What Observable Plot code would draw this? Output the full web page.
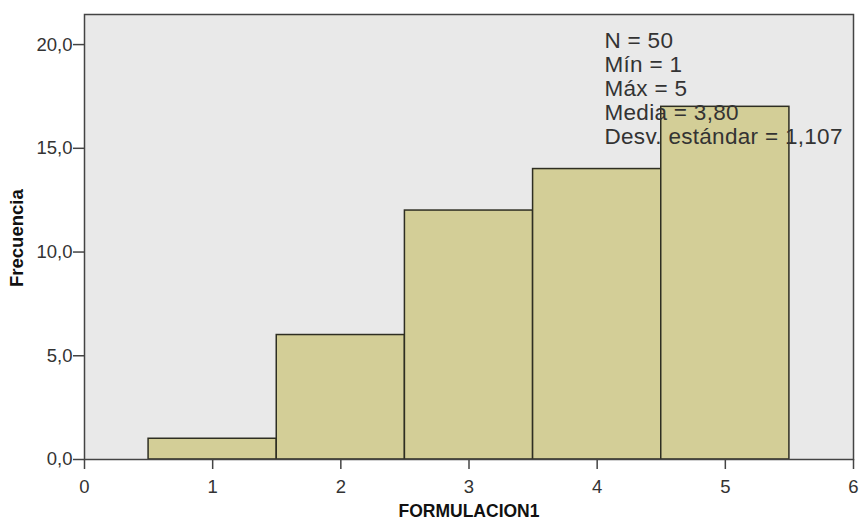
<!DOCTYPE html>
<html>
<head>
<meta charset="utf-8">
<script src="https://cdn.jsdelivr.net/npm/d3@7"></script>
<script src="https://cdn.jsdelivr.net/npm/@observablehq/plot@0.6"></script>
<style>
  html, body { margin: 0; padding: 0; background: #ffffff; }
  #chart svg { display: block; }
</style>
</head>
<body>
<div id="chart"></div>
<script>
const categories = [1, 2, 3, 4, 5];
const counts = [1, 6, 12, 14, 17];
const xTicks = [0, 1, 2, 3, 4, 5, 6];
const yTicks = [0, 5, 10, 15, 20];
const statsLines = ["N = 50", "Mín = 1", "Máx = 5", "Media = 3,80", "Desv. estándar = 1,107"];
const xTitle = "FORMULACION1";
const yTitle = "Frecuencia";

const bins = categories.map((c, i) => ({x1: c - 0.5, x2: c + 0.5, count: counts[i]}));
const fmt = d => d.toFixed(1).replace(".", ",");

const chart = Plot.plot({
  width: 861,
  height: 523,
  marginLeft: 84,
  marginRight: 8,
  marginTop: 14,
  marginBottom: 64,
  style: {fontFamily: "'Liberation Sans', Arial, sans-serif", background: "#ffffff", color: "#333"},
  x: {domain: [0, 6]},
  y: {domain: [0, 21.45]},
  marks: [
    Plot.frame({fill: "#e9e9e9", stroke: null}),
    Plot.rect(bins, {x1: "x1", x2: "x2", y1: 0, y2: "count", fill: "#d3ce97", stroke: "#2e2e22", strokeWidth: 1.5}),
    Plot.text([statsLines.join("\n")], {
      text: d => d, frameAnchor: "top-left", dx: 520, dy: 16,
      textAnchor: "start", lineAnchor: "top", lineHeight: 1.07,
      fontSize: 22.5, fill: "#333", className: "stats"
    }),
    Plot.frame({stroke: "#444", strokeWidth: 1.5}),
    Plot.axisY({ticks: yTicks, tickFormat: fmt, tickSize: 11, tickPadding: 1, fontSize: 18.5, label: null, stroke: "#444", strokeWidth: 1.5}),
    Plot.axisX({ticks: xTicks, tickFormat: d => String(d), tickSize: 10, tickPadding: 10, fontSize: 18.5, label: null, stroke: "#444", strokeWidth: 1.5}),
    Plot.text([xTitle], {text: d => d, frameAnchor: "bottom", dy: 57, fontSize: 17.5, fontWeight: "bold", fill: "#111"}),
    Plot.text([yTitle], {text: d => d, frameAnchor: "left", dx: -67, dy: 50, rotate: -90, fontSize: 18.5, fontWeight: "bold", fill: "#111"})
  ]
});
chart.querySelectorAll(".stats text").forEach(t => t.setAttribute("letter-spacing", "0.3"));
document.getElementById("chart").appendChild(chart);
</script>
</body>
</html>
